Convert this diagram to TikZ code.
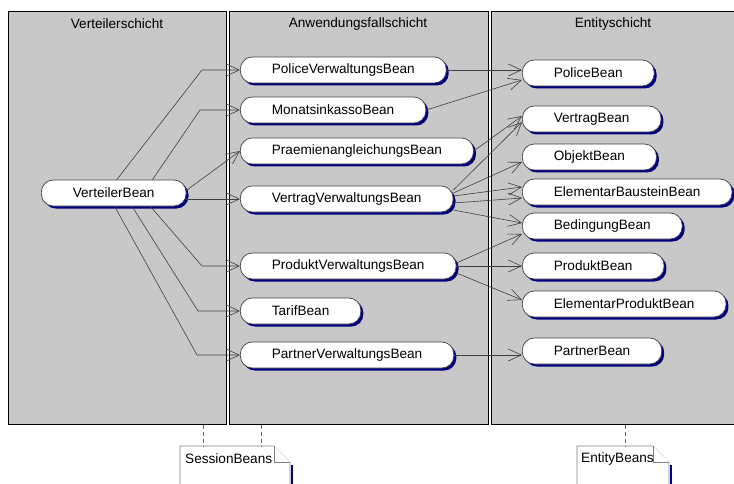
\documentclass[tikz,border=0pt]{standalone}
\usepackage{fontspec}
\setmainfont{Liberation Sans}
\usetikzlibrary{arrows.meta,shadows,calc}

\definecolor{laneGray}{RGB}{200,200,200}
\definecolor{beanShadow}{RGB}{0,0,128}
\definecolor{noteLink}{RGB}{176,48,192}
\definecolor{lineGray}{RGB}{64,64,64}

\tikzset{
  lane/.style={draw=black, fill=laneGray, line width=0.8pt, anchor=north west, minimum height=413pt, inner sep=0pt},
  bean/.style={draw=lineGray, fill=white, rounded corners=12pt, minimum height=26pt, inner xsep=31.5pt, inner ysep=0pt,
    anchor=west, line width=0.7pt, general shadow={fill=beanShadow, shadow xshift=2.5pt, shadow yshift=-2.5pt}},
  uses/.style={draw=lineGray, line width=0.6pt, -{Straight Barb[length=13pt,width=12pt]}},
  note/.style={draw=gray, fill=white, line width=0.7pt},
  noteDash/.style={draw=noteLink, line width=0.9pt, dash pattern=on 4pt off 3pt},
}

\begin{document}
\begin{tikzpicture}[x=1pt, y=-1pt, font=\fontsize{13.6}{16}\selectfont]
  \useasboundingbox (0,0) rectangle (734,484);
  \clip (0,0) rectangle (734,484);

  % the three layers
  \node[lane, minimum width=218pt] (verteilerschicht) at (8,11) {};
  \node[lane, minimum width=259pt] (anwendungsschicht) at (229,11) {};
  \node[lane, minimum width=250pt] (entityschicht) at (491,11) {};
  \node (titleVert) at (117,24) {Verteilerschicht};
  \node (titleAnw) at (358,24) {Anwendungsfallschicht};
  \node (titleEnt) at (613,24) {Entityschicht};

  % beans
  \node[bean] (verteiler) at (41,193) {VerteilerBean};

  \node[bean] (policeVw) at (240,70) {PoliceVerwaltungsBean};
  \node[bean] (monatsinkasso) at (240,110) {MonatsinkassoBean};
  \node[bean] (praemien) at (240,151) {PraemienangleichungsBean};
  \node[bean] (vertragVw) at (240,199) {VertragVerwaltungsBean};
  \node[bean] (produktVw) at (240,266) {ProduktVerwaltungsBean};
  \node[bean] (tarif) at (240,311) {TarifBean};
  \node[bean] (partnerVw) at (240,355) {PartnerVerwaltungsBean};

  \node[bean] (policeE) at (522,73) {PoliceBean};
  \node[bean] (vertragE) at (522,119) {VertragBean};
  \node[bean] (objektE) at (522,157) {ObjektBean};
  \node[bean] (elemBaustein) at (522,192) {ElementarBausteinBean};
  \node[bean] (bedingung) at (522,226) {BedingungBean};
  \node[bean] (produktE) at (522,266) {ProduktBean};
  \node[bean] (elemProdukt) at (522,304) {ElementarProduktBean};
  \node[bean] (partnerE) at (522,351) {PartnerBean};

  % verteiler -> anwendungsfaelle
  \draw[uses] (verteiler.77) -- ([xshift=-38pt]policeVw.west) -- (policeVw.west);
  \draw[uses] (verteiler.19) -- ([xshift=-40pt]monatsinkasso.west) -- (monatsinkasso.west);
  \draw[uses] (verteiler.2) -- (praemien.west);
  \draw[uses] (verteiler.east |- vertragVw.west) -- (vertragVw.west);
  \draw[uses] (verteiler.-20) -- ([xshift=-38pt]produktVw.west) -- (produktVw.west);
  \draw[uses] (verteiler.-36) -- ([xshift=-42pt]tarif.west) -- (tarif.west);
  \draw[uses] (verteiler.-86) -- ([xshift=-43pt]partnerVw.west) -- (partnerVw.west);

  % anwendungsfaelle -> entities
  \draw[uses] (policeVw.east) -- (policeVw.east -| policeE.west);
  \draw[uses] (monatsinkasso.east) -- ([yshift=-7pt]policeE.west);
  \draw[uses] (praemien.east) -- ([yshift=3pt]vertragE.west);
  \draw[uses] ([yshift=9pt]vertragVw.east) -- ([yshift=-3pt]vertragE.west);
  \draw[uses] ([yshift=6pt]vertragVw.east) -- ([yshift=-5pt]objektE.west);
  \draw[uses] ([yshift=3pt]vertragVw.east) -- ([yshift=5pt]elemBaustein.west);
  \draw[uses] ([yshift=-4pt]vertragVw.east) -- ([yshift=-6pt]elemBaustein.west);
  \draw[uses] ([yshift=-11pt]vertragVw.east) -- ([yshift=3pt]bedingung.west);
  \draw[uses] ([yshift=3pt]produktVw.east) -- ([yshift=-8pt]bedingung.west);
  \draw[uses] (produktVw.east) -- (produktVw.east -| produktE.west);
  \draw[uses] ([yshift=-7pt]produktVw.east) -- ([yshift=4pt]elemProdukt.west);
  \draw[uses] (partnerVw.east) -- (partnerVw.east -| partnerE.west);

  % notes
  \draw[note] (180,490) -- (180,446) -- (274,446) -- (290,462) -- (290,490);
  \draw[note] (274,446) -- (274,462) -- (290,462);
  \draw[beanShadow, line width=2.5pt] (292,465) -- (292,490);
  \node[anchor=west, inner sep=0pt] (sessionNote) at (185,459) {SessionBeans};

  \draw[note] (577,490) -- (577,446) -- (653,446) -- (669,462) -- (669,490);
  \draw[note] (653,446) -- (653,462) -- (669,462);
  \draw[beanShadow, line width=2.5pt] (671,465) -- (671,490);
  \node[anchor=west, inner sep=0pt] (entityNote) at (581,459) {EntityBeans};

  \coordinate (sessTopA) at (203,446);
  \coordinate (sessTopB) at (261,446);
  \coordinate (entTop) at (625,446);
  \draw[noteDash] (verteilerschicht.south -| sessTopA) -- (sessTopA);
  \draw[noteDash] (anwendungsschicht.south -| sessTopB) -- (sessTopB);
  \draw[noteDash] (entityschicht.south -| entTop) -- (entTop);
\end{tikzpicture}
\end{document}
